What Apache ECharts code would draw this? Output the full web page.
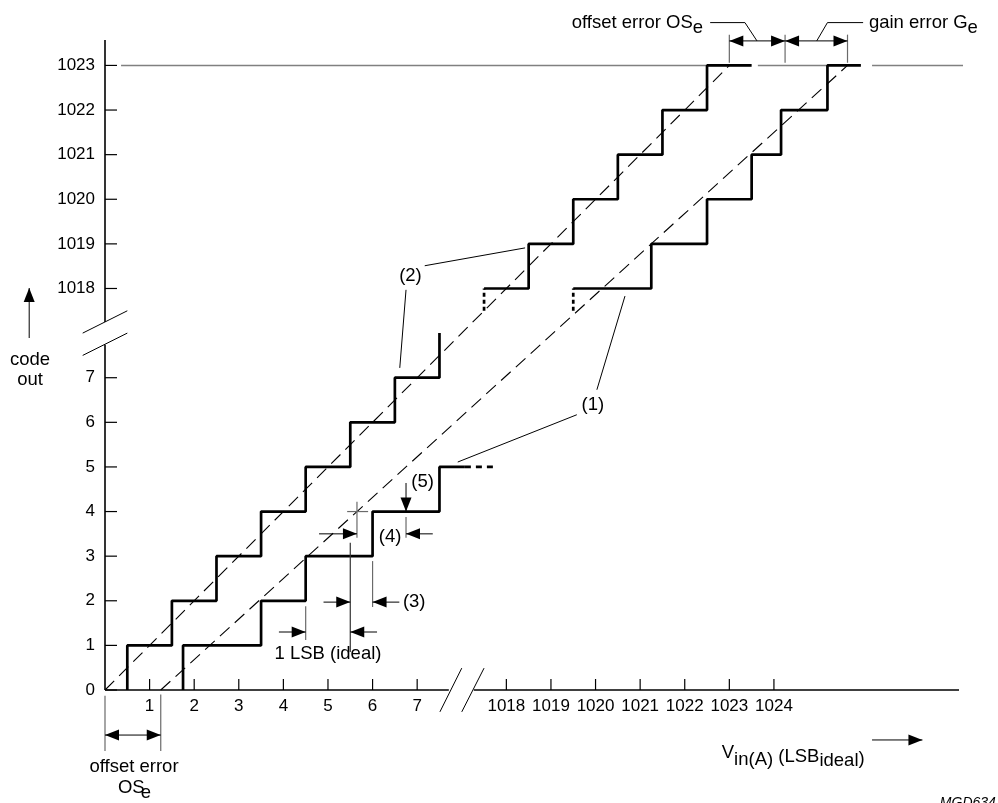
<!DOCTYPE html>
<html><head><meta charset="utf-8">
<script src="https://cdn.jsdelivr.net/npm/echarts@6/dist/echarts.min.js"></script>
<style>html,body{margin:0;padding:0;background:#fff}#c{width:998px;height:803px}</style>
</head><body><div id="c"></div>
<script>
// ---- tick labels (axis is broken between 7/8 and 1017/1018) ----
const xTickLabelsLow = [1, 2, 3, 4, 5, 6, 7];
const xTickLabelsHigh = [1018, 1019, 1020, 1021, 1022, 1023, 1024];
const yTickLabelsLow = [0, 1, 2, 3, 4, 5, 6, 7];
const yTickLabelsHigh = [1018, 1019, 1020, 1021, 1022, 1023];

// ---- (2) ideal transfer curve : [input LSB, code out] ----
const idealLow = [[0.5,0],[0.5,1],[1.5,1],[1.5,2],[2.5,2],[2.5,3],[3.5,3],[3.5,4],[4.5,4],[4.5,5],[5.5,5],[5.5,6],[6.5,6],[6.5,7],[7.5,7],[7.5,8]];
const idealHighStub = [[1017.5,1017.5],[1017.5,1018]];
const idealHigh = [[1017.5,1018],[1018.5,1018],[1018.5,1019],[1019.5,1019],[1019.5,1020],[1020.5,1020],[1020.5,1021],[1021.5,1021],[1021.5,1022],[1022.5,1022],[1022.5,1023],[1023.5,1023]];
// ---- (1) actual transfer curve ----
const actualLow = [[1.75,0],[1.75,1],[3.5,1],[3.5,2],[4.5,2],[4.5,3],[6,3],[6,4],[7.5,4],[7.5,5],[8.07,5]];
const actualLowExt = [[8.07,5],[8.8,5]];
const actualHighStub = [[1019.5,1017.5],[1019.5,1018]];
const actualHigh = [[1019.5,1018],[1021.25,1018],[1021.25,1019],[1022.5,1019],[1022.5,1020],[1023.5,1020],[1023.5,1021],[1024.16,1021],[1024.16,1022],[1025.2,1022],[1025.2,1023],[1025.95,1023]];
// ---- straight-line transfer characteristics (dashed) ----
const idealLine = [[0,0],[1023,1023]];
const actualLine = [[1.25,0],[1025.65,1023]];
// offset / gain error markers (input LSB)
const offsetError = 1.25;
const topMarks = [1023, 1024.25, 1025.65];

const BREAK = 1009;
const v = a => (a > 500 ? a - BREAK : a);
const toV = arr => arr.map(p => [v(p[0]), v(p[1])]);

const FONT = '"Liberation Sans", Arial, Helvetica, sans-serif';
const F17 = '18.5px ' + FONT;
const mctx = document.createElement('canvas').getContext('2d');
const tw = (s, f) => { mctx.font = f; return mctx.measureText(s).width; };

function lab(val) {
  if (val > 0.5 && val < 7.5 && Math.abs(val - Math.round(val)) < 1e-6) return String(Math.round(val));
  return null;
}

function renderGray(params, api) {
  const P = (x, y) => api.coord([x, y]);
  const kids = [];
  const segs = [[0.36, 14.48], [14.64, 16.21], [17.2, 19.24]];
  segs.forEach(s => kids.push({type:'line', shape:{x1:P(s[0],14)[0], y1:P(0,14)[1], x2:P(s[1],14)[0], y2:P(0,14)[1]}, style:{stroke:'#808080', lineWidth:1.6}}));
  return {type:'group', children:kids};
}

function renderAnn(params, api) {
  const P = (x, y) => api.coord([x, y]);
  const kids = [];
  const pl = (pts, stroke, w, dash) => kids.push({type:'polyline', shape:{points:pts}, style:{stroke, lineWidth:w, fill:null, lineDash:dash || null}});
  const ln = (pts, stroke, w) => pl(pts.map(p => P(p[0], p[1])), stroke || '#000', w || 1);
  const head = (x, y, dir, L, H) => {
    L = L || 14; H = H || 5.5;
    const [px, py] = P(x, y);
    let pts;
    if (dir === 'r') pts = [[px,py],[px-L,py-H],[px-L,py+H]];
    if (dir === 'l') pts = [[px,py],[px+L,py-H],[px+L,py+H]];
    if (dir === 'u') pts = [[px,py],[px-H,py+L],[px+H,py+L]];
    if (dir === 'd') pts = [[px,py],[px-H,py-L],[px+H,py-L]];
    kids.push({type:'polygon', shape:{points:pts}, style:{fill:'#000'}});
  };
  const arrow = (x1, y1, x2, y2, dir) => { ln([[x1,y1],[x2,y2]], '#000', 1); head(x2, y2, dir); };
  const dbl = (x1, x2, y) => { ln([[x1,y],[x2,y]], '#000', 1); head(x1, y, 'l'); head(x2, y, 'r'); };
  const txt = (s, px, py, align, va, font) => kids.push({type:'text', style:{text:s, x:px, y:py, fill:'#000', font:font || F17, align:align || 'left', verticalAlign:va || 'middle'}});
  const txtV = (s, x, y, align, va, font) => { const p = P(x, y); txt(s, p[0], p[1], align, va, font); };

  // axes (with breaks)
  ln([[0,14.57],[0,8.25]], '#000', 1.6);
  ln([[0,7.74],[0,0]], '#000', 1.6);
  ln([[0,0],[7.71,0]], '#000', 1.6);
  ln([[8.27,0],[19.15,0]], '#000', 1.6);
  // break marks
  ln([[-0.5,8.0],[0.5,8.5]], '#000', 1);
  ln([[-0.5,7.5],[0.5,8.0]], '#000', 1);
  ln([[7.51,-0.49],[8.0,0.49]], '#000', 1);
  ln([[8.0,-0.49],[8.5,0.49]], '#000', 1);
  // ticks
  yTickLabelsLow.concat(yTickLabelsHigh).forEach(c => { const p = P(0, v(c)); pl([[p[0], p[1]], [p[0] + 12, p[1]]], '#000', 1.2); });
  xTickLabelsLow.concat(xTickLabelsHigh).forEach(c => { const p = P(v(c), 0); pl([[p[0], p[1]], [p[0], p[1] - 11]], '#000', 1.2); });

  const G = '#6a6a6a';
  // cross at actual line / code 4
  ln([[5.43,4],[5.9,4]], G, 1.2);
  ln([[5.65,4.22],[5.65,3.41]], G, 1.2);
  arrow(4.8, 3.5, 5.65, 3.5, 'r');
  // (4)
  ln([[6.75,3.88],[6.75,3.41]], G, 1.2);
  arrow(7.35, 3.5, 6.75, 3.5, 'l');
  // (5)
  arrow(6.75, 4.64, 6.75, 4.0, 'd');
  // 1 LSB (ideal)
  ln([[5.5,3.3],[5.5,0.85]], '#333', 1.2);
  ln([[4.5,1.88],[4.5,1.12]], G, 1.2);
  arrow(3.9, 1.3, 4.5, 1.3, 'r');
  arrow(6.1, 1.3, 5.5, 1.3, 'l');
  // (3)
  ln([[6.0,2.89],[6.0,1.86]], G, 1.2);
  arrow(4.9, 1.97, 5.5, 1.97, 'r');
  arrow(6.6, 1.97, 6.0, 1.97, 'l');
  // leaders (1), (2)
  ln([[7.17,9.51],[9.42,9.91]]);
  ln([[6.75,8.97],[6.61,7.22]]);
  ln([[10.58,6.17],[7.91,5.11]]);
  ln([[11.03,6.73],[11.66,8.83]]);
  // top offset / gain error
  topMarks.forEach(m => ln([[v(m),14.06],[v(m),14.69]], G, 1.2));
  dbl(v(topMarks[0]), v(topMarks[1]), 14.55);
  dbl(v(topMarks[1]), v(topMarks[2]), 14.55);
  ln([[13.57,14.96],[14.35,14.96],[14.62,14.55]]);
  ln([[15.96,14.55],[16.2,14.96],[17.0,14.96]]);
  // bottom offset error
  ln([[0,-0.13],[0,-1.37]], G, 1.2);
  ln([[offsetError,-0.1],[offsetError,-1.37]], G, 1.2);
  dbl(0, offsetError, -1.01);
  // code out arrow
  arrow(-1.7, 7.89, -1.7, 9.01, 'u');
  // V_in arrow
  arrow(17.2, -1.12, 18.33, -1.12, 'r');

  // labels
  txtV('(2)', 6.85, 9.29, 'center');
  txtV('(1)', 10.94, 6.39, 'center');
  txtV('(5)', 6.87, 4.66, 'left');
  txtV('(4)', 6.14, 3.43, 'left');
  txtV('(3)', 6.68, 1.97, 'left');
  txtV('1 LSB (ideal)', 5.0, 0.81, 'center');
  txtV('code', -1.68, 7.40, 'center');
  txtV('out', -1.68, 6.95, 'center');
  txtV('offset error', 0.65, -1.72, 'center');
  // OSe bottom
  {
    const p = P(0.66, -2.2);
    const w1 = tw('OS', F17), w2 = tw('e', F17);
    const x0 = p[0] - (w1 + w2 - 4) / 2;
    txt('OS', x0, p[1], 'left');
    txt('e', x0 + w1 - 4, p[1] + 5, 'left');
  }
  // offset error OSe top (right edge anchored)
  {
    const p = P(13.41, 14.96);
    const we = tw('e', F17);
    txt('e', p[0], p[1] + 5, 'right');
    txt('offset error OS', p[0] - we, p[1], 'right');
  }
  {
    const p = P(17.13, 14.96);
    const w = tw('gain error G', F17);
    txt('gain error G', p[0], p[1], 'left');
    txt('e', p[0] + w, p[1] + 5, 'left');
  }
  // V_in(A) (LSB_ideal)
  {
    const p = P(13.83, -1.12);
    let x = p[0];
    const y0 = p[1];
    const parts = [['V', 3], ['in(A)', 10], [' (LSB', 7], ['ideal', 11], [')', 9]];
    parts.forEach(([s, dy]) => { txt(s, x, y0 + dy, 'left', 'alphabetic'); x += tw(s, F17); });
  }
  // figure code
  {
    const p = P(18.72, -2.38);
    txt('MGD634', p[0], p[1], 'left', 'top', 'italic 14px ' + FONT);
  }
  return {type:'group', children:kids};
}

const stepStyle = {color:'#000', width:2.7};
const thinDash = {color:'#000', width:1.1, type:[13,7]};
const mk = (data, ls, z) => ({type:'line', data:toV(data), symbol:'none', lineStyle:ls, z:z || 3, silent:true, animation:false});

const chart = echarts.init(document.getElementById('c'), null, {renderer:'canvas'});
chart.setOption({
  animation:false,
  backgroundColor:'#fff',
  grid:{left:105, right:39, top:40, bottom:113},
  xAxis:{type:'value', min:0, max:19.15, interval:1,
    axisLine:{show:false}, axisTick:{show:false}, splitLine:{show:false},
    axisLabel:{margin:8, fontSize:17, fontFamily:FONT, color:'#000', showMinLabel:true, showMaxLabel:true,
      formatter: val => { const l = lab(val); if (l) return l; const r = Math.round(val); if (Math.abs(val-r) < 1e-6 && xTickLabelsHigh.indexOf(r + BREAK) >= 0) return String(r + BREAK); return ''; }}},
  yAxis:{type:'value', min:0, max:14.57, interval:1,
    axisLine:{show:false}, axisTick:{show:false}, splitLine:{show:false},
    axisLabel:{margin:10, fontSize:17, fontFamily:FONT, color:'#000',
      formatter: val => { const r = Math.round(val); if (Math.abs(val-r) > 1e-6) return ''; if (yTickLabelsLow.indexOf(r) >= 0) return String(r); if (yTickLabelsHigh.indexOf(r + BREAK) >= 0) return String(r + BREAK); return ''; }}},
  series:[
    {type:'custom', renderItem:renderGray, data:[[0,0]], clip:false, z:1, silent:true},
    mk(idealLine, thinDash, 2),
    mk(actualLine, thinDash, 2),
    mk(idealLow, stepStyle),
    mk(idealHigh, stepStyle),
    mk(idealHighStub, {color:'#000', width:2.7, type:[4,3]}),
    mk(actualLow, stepStyle),
    mk(actualLowExt, {color:'#000', width:2.7, type:[6,5]}),
    mk(actualHigh, stepStyle),
    mk(actualHighStub, {color:'#000', width:2.7, type:[4,3]}),
    {type:'custom', renderItem:renderAnn, data:[[0,0]], clip:false, z:5, silent:true}
  ]
});
</script>
</body></html>
